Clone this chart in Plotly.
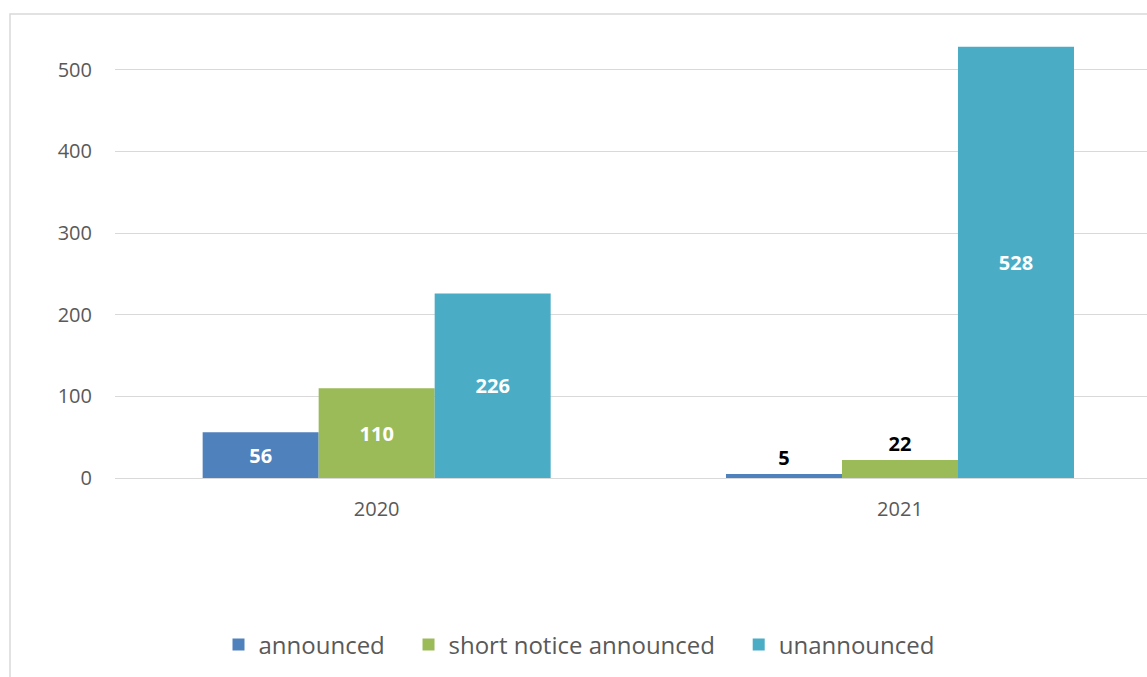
import plotly.graph_objects as go

years = ["2020", "2021"]
announced = [56, 5]
short_notice = [110, 22]
unannounced = [226, 528]
series_names = ["announced", "short notice announced", "unannounced"]
colors = ["#4F81BD", "#9BBB59", "#4BACC6"]
y_ticks = [0, 100, 200, 300, 400, 500]

W, H = 1147, 677
ml, mr, mt, mb = 115, 0, 15, 199
pw, ph = W - ml - mr, H - mt - mb

# trailing non-breaking spaces widen legend spacing to match the reference
legend_pad = ["\u00a0\u00a0\u00a0", "\u00a0\u00a0\u00a0", ""]

fig = go.Figure()
for name, pad, vals, col in zip(series_names, legend_pad,
                                [announced, short_notice, unannounced], colors):
    pos = ["inside" if v > 40 else "outside" for v in vals]
    fig.add_trace(go.Bar(
        name=name + pad, x=years, y=vals, marker=dict(color=col, line=dict(width=0)),
        text=[str(v) for v in vals], textposition=pos, textangle=0,
        insidetextanchor="middle", constraintext="none", cliponaxis=False,
        insidetextfont=dict(family="Open Sans", size=20, color="white", weight="bold"),
        outsidetextfont=dict(family="Open Sans", size=20, color="black", weight="bold"),
    ))

# chart border (light grey)
fig.add_shape(type="rect", xref="paper", yref="paper",
              x0=(10 - ml) / pw, x1=1.05, y0=-0.6, y1=(H - mb - 14) / ph,
              line=dict(color="#D9D9D9", width=1.5), fillcolor="rgba(0,0,0,0)", layer="below")

fig.update_layout(
    width=W, height=H,
    margin=dict(l=ml, r=mr, t=mt, b=mb, pad=0),
    paper_bgcolor="white", plot_bgcolor="white",
    barmode="group", bargap=0.335, bargroupgap=0,
    font=dict(family="Open Sans", color="#595959"),
    showlegend=True,
    legend=dict(orientation="h", x=(579 - ml) / pw, xanchor="center",
                y=(H - mb - 645) / ph, yanchor="middle",
                font=dict(family="Open Sans", size=24, color="#595959"),
                itemwidth=30, traceorder="normal"),
    xaxis=dict(type="category", range=[-0.5, 1.472], showgrid=False, showline=False,
               ticks="", tickfont=dict(family="Open Sans", size=20, color="#595959"),
               ticklabelstandoff=17, zeroline=False),
    yaxis=dict(range=[0, 567], tickvals=y_ticks, ticktext=[str(t) for t in y_ticks],
               showgrid=True, gridcolor="#D9D9D9", gridwidth=1.3,
               zeroline=True, zerolinecolor="#D9D9D9", zerolinewidth=1.3,
               showline=False, ticks="",
               tickfont=dict(family="Open Sans", size=20, color="#595959"),
               ticklabelstandoff=22),
)

fig.write_html("out.html")
